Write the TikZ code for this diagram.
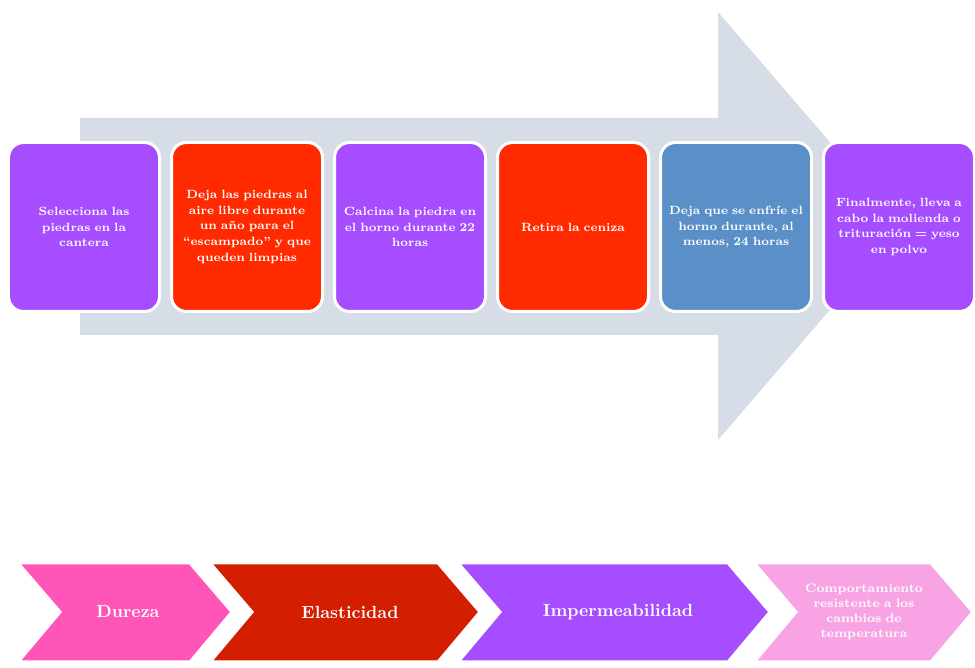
\documentclass[tikz,border=0pt]{standalone}
\usetikzlibrary{positioning}
\definecolor{grisflecha}{HTML}{D6DDE7}
\definecolor{lila}{HTML}{A64DFF}
\definecolor{rojo}{HTML}{FF2A00}
\definecolor{azul}{HTML}{5B8FC7}
\definecolor{rosa}{HTML}{FF55B8}
\definecolor{granate}{HTML}{D41E00}
\definecolor{rosaclaro}{HTML}{F7A3E4}
\tikzset{
  paso/.style={draw=white, line width=0.6mm, rounded corners=3mm, minimum width=30.2mm,
    minimum height=33.8mm, inner sep=1mm, text width=27.5mm, align=center, text=white,
    font=\fontsize{6.8}{9}\selectfont\bfseries},
  chevron/.style={draw=white, line width=0.6mm},
  rotulo/.style={text=white, align=center, font=\fontsize{10}{12}\selectfont\bfseries}
}
\begin{document}
\begin{tikzpicture}[x=0.2mm, y=-0.2mm, node distance=1.8mm]
\useasboundingbox (0,0) rectangle (975,668);
\fill[grisflecha] (80,118)--(718,118)--(718,12)--(902,226)--(718,440)--(718,335)--(80,335)--cycle;
% pasos
\node[paso, fill=lila] (sel) at (84,227) {Selecciona las\\ piedras en la\\ cantera};
\node[paso, fill=rojo, right=of sel] (deja) {Deja las piedras al\\ aire libre durante\\ un año para el\\ ``escampado'' y que\\ queden limpias};
\node[paso, fill=lila, right=of deja] (calcina) {Calcina la piedra en\\ el horno durante 22\\ horas};
\node[paso, fill=rojo, right=of calcina] (retira) {Retira la ceniza};
\node[paso, fill=azul, right=of retira] (enfria) {Deja que se enfríe el\\ horno durante, al\\ menos, 24 horas};
\node[paso, fill=lila, right=of enfria] (molienda) {Finalmente, lleva a\\ cabo la molienda o\\ trituración = yeso\\ en polvo};
% propiedades
\foreach \l/\r/\c in {18/232/rosa, 210/480/granate, 458/770/lila, 754/973/rosaclaro}
  \filldraw[chevron, fill=\c] (\l,563)--(\r-42,563)--(\r,612)--(\r-42,662)--(\l,662)--(\l+42,612)--cycle;
\node[rotulo] (dureza) at (128,612) {Dureza};
\node[rotulo] (elasticidad) at (350,612) {Elasticidad};
\node[rotulo] (imper) at (618,612) {Impermeabilidad};
\node[rotulo, text width=26mm, font=\fontsize{7}{8.5}\selectfont\bfseries] (comport) at (864,612) {Comportamiento resistente a los cambios de temperatura};
\end{tikzpicture}
\end{document}
